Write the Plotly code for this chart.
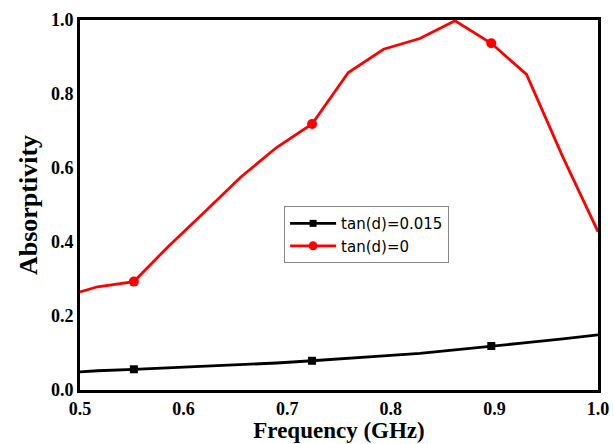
import plotly.graph_objects as go

freq = [0.5, 0.517, 0.552, 0.586, 0.621, 0.655, 0.69, 0.724, 0.759, 0.793, 0.828, 0.862, 0.897, 0.931, 0.966, 1.0]
absorb_lossy = [0.049, 0.052, 0.056, 0.060, 0.064, 0.068, 0.073, 0.079, 0.085, 0.092, 0.099, 0.108, 0.119, 0.128, 0.138, 0.149]
absorb_lossless = [0.265, 0.279, 0.293, 0.39, 0.483, 0.575, 0.656, 0.719, 0.858, 0.921, 0.950, 0.998, 0.937, 0.853, 0.63, 0.428]
marker_idx = [2, 7, 12]
names = ["tan(d)=0.015", "tan(d)=0"]
colors = ["#000000", "#ff0000"]
symbols = ["square", "circle"]
msizes = [8, 10]

fig = go.Figure()
for ys, name, col, sym, ms in zip([absorb_lossy, absorb_lossless], names, colors, symbols, msizes):
    fig.add_trace(go.Scatter(x=freq, y=ys, mode="lines", line=dict(color=col, width=2.8),
                             showlegend=False, hoverinfo="skip"))
    fig.add_trace(go.Scatter(x=[freq[i] for i in marker_idx], y=[ys[i] for i in marker_idx],
                             mode="markers", marker=dict(color=col, symbol=sym, size=ms),
                             showlegend=False))
    fig.add_trace(go.Scatter(x=[None], y=[None], mode="lines+markers", name=name,
                             line=dict(color=col, width=2.8),
                             marker=dict(color=col, symbol=sym, size=ms - 1)))

axis_font = dict(family="Liberation Serif", size=18, color="black", weight="bold")
xtitle_font = dict(family="Liberation Serif", size=23, color="black", weight="bold")
ytitle_font = dict(family="Liberation Serif", size=26, color="black", weight="bold")

fig.update_layout(
    width=614, height=444,
    margin=dict(l=80, r=16, t=20, b=54),
    paper_bgcolor="white", plot_bgcolor="white",
    showlegend=True,
    legend=dict(x=0.394, y=0.497, xanchor="left", yanchor="top",
                bgcolor="white", bordercolor="#888888", borderwidth=1,
                font=dict(family="DejaVu Sans", size=15, color="black"),
                tracegroupgap=0, itemwidth=46),
    xaxis=dict(range=[0.5, 1.0], tickvals=[0.5, 0.6, 0.7, 0.8, 0.9, 1.0],
               ticktext=["0.5", "0.6", "0.7", "0.8", "0.9", "1.0"],
               showgrid=False, zeroline=False, showline=True, linecolor="black",
               linewidth=2.8, mirror=True, ticks="", tickfont=axis_font, automargin=False,
               title=dict(text="Frequency (GHz)", font=xtitle_font, standoff=3)),
    yaxis=dict(range=[0.0, 1.0], tickvals=[0.0, 0.2, 0.4, 0.6, 0.8, 1.0],
               ticktext=["0.0", "0.2", "0.4", "0.6", "0.8", "1.0"],
               showgrid=False, zeroline=False, showline=True, linecolor="black",
               linewidth=2.8, mirror=True, ticks="", tickfont=axis_font, automargin=False,
               title=dict(text="Absorptivity", font=ytitle_font, standoff=6)),
)

fig.write_html("out.html")
